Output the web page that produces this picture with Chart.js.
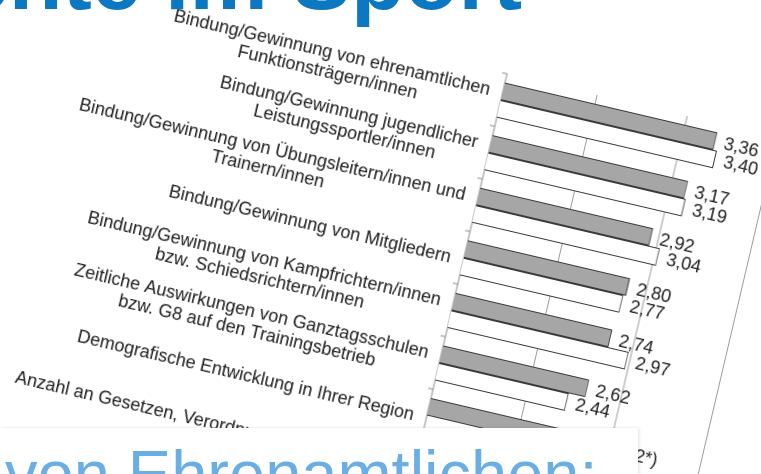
<!DOCTYPE html>
<html>
<head>
<meta charset="utf-8">
<script src="https://cdn.jsdelivr.net/npm/chart.js@4.4.1/dist/chart.umd.min.js"></script>
<style>
  html, body { margin: 0; padding: 0; width: 761px; height: 474px; overflow: hidden; background: #fff; }
  body { position: relative; }
  #title { position: absolute; right: 239px; top: -65px; font: bold 88px "Liberation Sans", Arial, sans-serif;
           color: #0b78c1; white-space: nowrap; line-height: 1; z-index: 3; }
  #frame { position: absolute; left: -29px; top: -93px; width: 850px; height: 480px;
           transform-origin: 0 0; transform: rotate(13.2deg); }
  #box { position: absolute; left: 0; top: 428px; width: 638px; height: 60px; background: #fff;
         box-shadow: 1px 0 3px rgba(0,0,0,0.12); z-index: 2; }
  #sub { position: absolute; left: 5px; top: 441px; font: 65px "Liberation Sans", Arial, sans-serif;
         color: #6aaee6; line-height: 1; white-space: nowrap; z-index: 3; }
</style>
</head>
<body>
<div id="title">Momente im Sport</div>
<div id="frame"><canvas id="chart" width="850" height="480" style="width:850px;height:480px"></canvas></div>
<div id="box"></div>
<div id="sub">von Ehrenamtlichen:</div>
<script>
// Kategorien (Zeilen der Beschriftung)
const categories = [
  ['Bindung/Gewinnung von ehrenamtlichen', 'Funktionsträgern/innen'],
  ['Bindung/Gewinnung jugendlicher', 'Leistungssportler/innen'],
  ['Bindung/Gewinnung von Übungsleitern/innen und', 'Trainern/innen'],
  ['Bindung/Gewinnung von Mitgliedern'],
  ['Bindung/Gewinnung von Kampfrichtern/innen', 'bzw. Schiedsrichtern/innen'],
  ['Zeitliche Auswirkungen von Ganztagsschulen', 'bzw. G8 auf den Trainingsbetrieb'],
  ['Demografische Entwicklung in Ihrer Region'],
  ['Anzahl an Gesetzen, Verordnungen und Auflagen']
]

// Mittelwerte (grau / weiß)
const seriesGray = [3.36, 3.17, 2.92, 2.80, 2.74, 2.62, 2.92, null]
const seriesWhite = [3.40, 3.19, 3.04, 2.77, 2.97, 2.44, null, null]
const grayNotes = ['', '', '', '', '', '', '*)', '']
const xTicks = [1, 2, 3, 4]

const FONT = '18px "Liberation Sans", Arial, sans-serif'

const fmt = v => v.toFixed(2).replace('.', ',')

// Beschriftung der Kategorien: Block rechtsbündig an der Achse, Zeilen zentriert
const categoryLabels = {
  id: 'categoryLabels',
  afterDraw(chart) {
    const { ctx, chartArea, scales: { y } } = chart
    ctx.save()
    ctx.font = FONT
    ctx.fillStyle = '#1e1e1e'
    ctx.textAlign = 'center'
    ctx.textBaseline = 'middle'
    const lh = 20
    categories.forEach((lines, i) => {
      const yc = y.getPixelForValue(i) + 3
      const widest = Math.max(...lines.map(l => ctx.measureText(l).width))
      const xc = chartArea.left - 13 - widest / 2
      lines.forEach((l, k) => {
        ctx.fillText(l, xc, yc + (k - (lines.length - 1) / 2) * lh)
      })
    })
    ctx.restore()
  }
}

// Werte rechts neben den Balken
const valueLabels = {
  id: 'valueLabels',
  afterDatasetsDraw(chart) {
    const { ctx } = chart
    ctx.save()
    ctx.font = FONT
    ctx.fillStyle = '#1e1e1e'
    ctx.textAlign = 'left'
    ctx.textBaseline = 'middle'
    chart.data.datasets.forEach((ds, di) => {
      chart.getDatasetMeta(di).data.forEach((bar, i) => {
        const v = ds.data[i]
        if (v == null) return
        const note = di === 0 ? grayNotes[i] : ''
        ctx.fillText(fmt(v) + note, bar.x + 9, bar.y + 1)
      })
    })
    ctx.restore()
  }
}

new Chart(document.getElementById('chart'), {
  type: 'bar',
  data: {
    labels: categories.map(c => c.join(' ')),
    datasets: [
      { data: seriesGray, backgroundColor: '#a6a6a6', borderColor: '#3a3a3a', borderWidth: 1 },
      { data: seriesWhite, backgroundColor: '#ffffff', borderColor: '#3a3a3a', borderWidth: 1 }
    ]
  },
  options: {
    indexAxis: 'y',
    responsive: false,
    animation: false,
    devicePixelRatio: 2,
    datasets: { bar: { categoryPercentage: 0.667, barPercentage: 1 } },
    layout: { padding: { left: 555, top: 40, right: 12.5, bottom: 8 } },
    plugins: { legend: { display: false }, tooltip: { enabled: false } },
    scales: {
      x: {
        type: 'linear', min: 1, max: 4,
        afterBuildTicks: s => { s.ticks = xTicks.map(v => ({ value: v })) },
        ticks: { display: false },
        grid: { color: '#9c9c9c', drawTicks: false },
        border: { display: false },
        afterFit: s => { s.height = 0 }
      },
      y: {
        offset: true,
        ticks: { display: false },
        grid: { drawOnChartArea: false, offset: true, tickLength: 5, color: '#8c8c8c' },
        border: { color: '#8c8c8c' },
        afterFit: s => { s.width = 5 }
      }
    }
  },
  plugins: [categoryLabels, valueLabels]
})
</script>
</body>
</html>
